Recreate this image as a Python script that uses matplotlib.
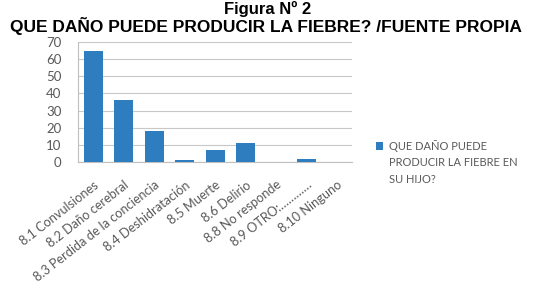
import matplotlib.pyplot as plt
from matplotlib.transforms import ScaledTranslation

categorias = ["8.1 Convulsiones", "8.2 Daño cerebral", "8.3 Perdida de la conciencia",
              "8.4 Deshidratación", "8.5 Muerte", "8.6 Delirio", "8.8 No responde",
              "8.9 OTRO:…………", "8.10 Ninguno"]
valores = [65, 36, 18, 1, 7, 11, 0, 2, 0]
serie = ["QUE DAÑO PUEDE", "PRODUCIR LA FIEBRE EN", "SU HIJO?"]

azul = "#2e7ebf"
gris = "#595959"

fig = plt.figure(figsize=(5.53, 3.04), dpi=100)
ax = fig.add_axes([0.141, 0.467, 0.496, 0.395])

x = range(len(categorias))
ax.bar(x, valores, width=0.63, color=azul, zorder=3, label=serie[0])

ax.set_ylim(0, 70)
ax.set_yticks(range(0, 71, 10))
ax.set_xlim(-0.5, len(categorias) - 0.5)
ax.set_xticks(list(x))
ax.set_xticklabels(categorias, rotation=38, ha="right", rotation_mode="anchor",
                   fontsize=9.2, color=gris, family="Lato")
desplaz = ScaledTranslation(5 / 100, 0, fig.dpi_scale_trans)
for t in ax.get_xticklabels():
    t.set_transform(t.get_transform() + desplaz)
for t in ax.get_yticklabels():
    t.set_fontsize(9.5)
    t.set_color(gris)
    t.set_family("Lato")
ax.tick_params(axis="both", length=0)
ax.tick_params(axis="y", pad=12)
ax.tick_params(axis="x", pad=12)

ax.grid(axis="y", color="#c8c8c8", linewidth=0.8, zorder=0)
for lado in ["top", "right"]:
    ax.spines[lado].set_visible(False)
ax.spines["left"].set_color("#bfbfbf")
ax.spines["bottom"].set_color("#bfbfbf")

leg = ax.legend(loc="center left", bbox_to_anchor=(1.085, 0.135), frameon=False,
                prop={"family": "Lato", "size": 8}, labelcolor=gris,
                handlelength=0.7, handleheight=0.7, handletextpad=0.55,
                borderpad=0, borderaxespad=0)

# resto del texto de la leyenda, alineado con la primera linea
fig.canvas.draw()
caja = leg.get_texts()[0].get_window_extent().transformed(ax.transAxes.inverted())
ax.text(caja.x0, caja.y0 - 0.04, "\n".join(serie[1:]), transform=ax.transAxes,
        ha="left", va="top", fontsize=8, color=gris, family="Lato", linespacing=1.7)

fig.text(0.484, 0.972, "Figura Nº 2", ha="center", va="center",
         fontsize=12, fontweight="bold", family="Liberation Sans")
fig.text(0.481, 0.915, "QUE DAÑO PUEDE PRODUCIR LA FIEBRE? /FUENTE PROPIA", ha="center",
         va="center", fontsize=12.5, fontweight="bold", family="Liberation Sans")

plt.savefig("out.png", dpi=100)
plt.close("all")
